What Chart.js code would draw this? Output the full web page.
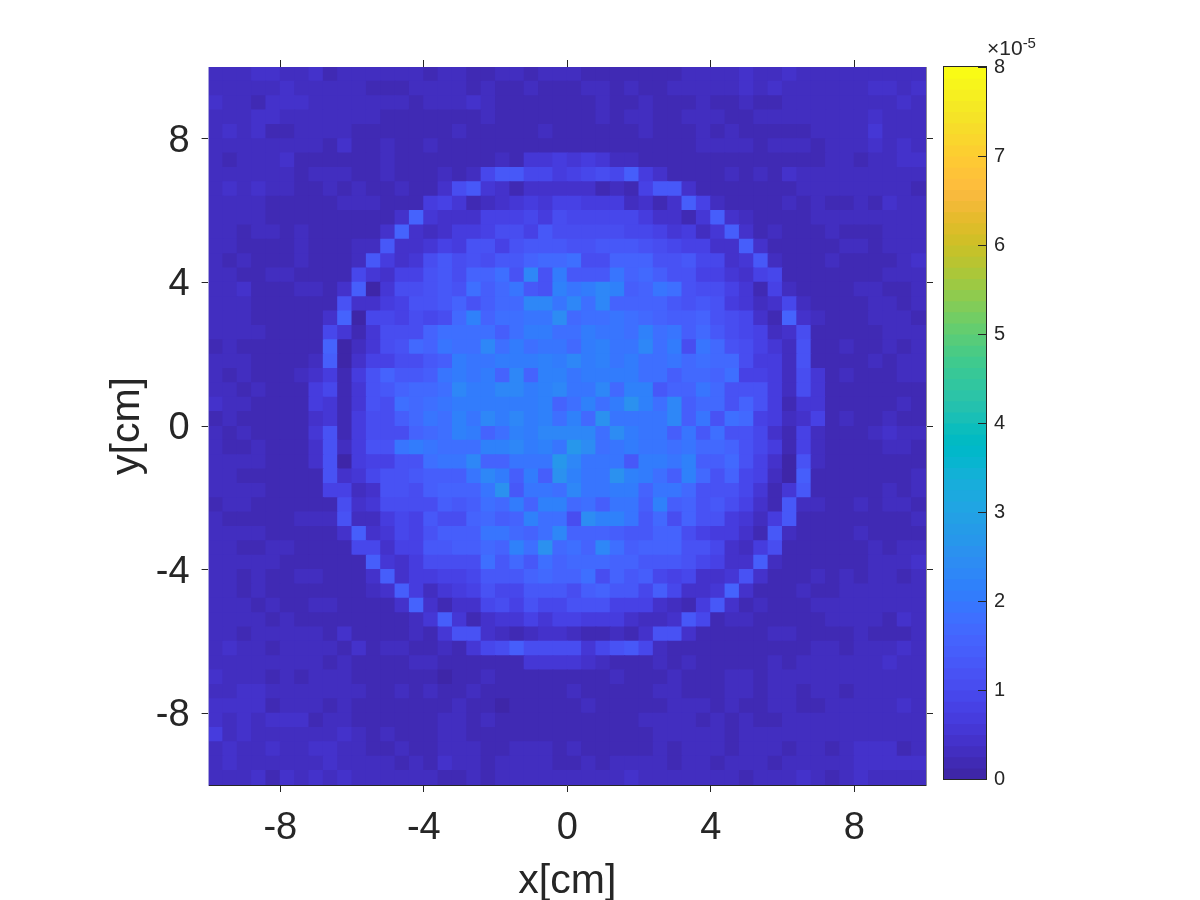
<!DOCTYPE html>
<html>
<head>
<meta charset="utf-8">
<title>Heatmap</title>
<script src="https://cdn.jsdelivr.net/npm/chart.js@4"></script>
<style>
  body { margin: 0; background: #fff; }
  canvas { position: absolute; left: 0; top: 0; }
  #cbExp { position: absolute; left: 987px; top: 36px; font: 21px "Liberation Sans", Arial, sans-serif; color: #262626; }
  #cbExp sup { font-size: 15px; vertical-align: 7px; line-height: 0; }
</style>
</head>
<body>
<canvas id="mapChart" width="1200" height="900"></canvas>
<canvas id="barChart" width="1200" height="900"></canvas>
<div id="cbExp">×10<sup>-5</sup></div>
<script>
// axis ticks
const xTicks = [-8, -4, 0, 4, 8];
const yTicks = [-8, -4, 0, 4, 8];
const cbTicks = [0, 1, 2, 3, 4, 5, 6, 7, 8];

// colormap (64 levels over 0..8e-5)
const parula = [[62,38,168],[64,42,180],[66,46,192],[68,50,203],[69,55,213],[70,60,222],[71,65,229],[71,71,235],[72,77,240],[72,82,244],[71,88,248],[70,94,251],[69,99,253],[66,105,254],[62,111,255],[56,117,254],[50,124,252],[47,129,250],[46,135,247],[45,140,243],[43,145,239],[39,151,235],[37,155,232],[35,160,229],[32,165,227],[28,169,223],[24,173,219],[18,177,214],[8,181,208],[1,184,202],[2,186,195],[11,189,189],[25,191,182],[36,193,174],[44,196,167],[49,198,159],[55,200,151],[63,202,142],[74,203,132],[87,204,122],[100,205,111],[114,205,100],[129,204,89],[143,203,78],[157,201,67],[171,199,57],[185,196,49],[197,194,42],[209,191,39],[220,189,41],[230,187,45],[240,186,54],[248,186,61],[254,190,60],[254,195,56],[254,201,52],[252,207,48],[250,214,45],[247,220,42],[245,227,39],[245,233,36],[246,239,32],[247,245,27],[249,251,21]];

// cell values in units of 1e-7, rows from y=10 down to y=-10, columns from x=-10 to x=10
const cellRows = [
[31,31,31,44,44,31,31,44,19,31,31,31,31,31,31,19,31,31,19,19,31,31,19,31,31,31,19,19,19,19,19,19,19,31,31,31,31,44,31,31,44,31,31,31,31,31,31,31,31,31],
[31,31,31,31,31,44,31,31,31,31,31,19,19,19,31,31,31,31,19,31,19,19,31,19,19,19,31,31,19,31,19,19,31,31,31,31,31,44,31,44,31,31,31,31,31,31,44,44,31,44],
[44,31,31,19,44,44,44,31,31,31,31,31,31,31,19,31,31,31,44,31,19,19,19,19,19,19,19,31,19,19,31,19,19,19,31,19,19,31,19,19,31,31,31,31,31,31,31,31,44,31],
[31,31,31,44,44,31,31,31,31,31,31,31,19,19,19,19,19,19,19,31,19,19,19,19,19,19,19,31,19,31,31,19,19,31,31,31,19,19,31,31,31,31,31,31,31,31,44,31,31,31],
[31,44,31,44,19,19,31,31,31,31,19,19,19,19,19,19,19,31,19,19,19,19,19,31,19,19,19,19,19,19,31,19,19,19,31,19,31,19,19,19,19,19,31,31,31,31,56,31,31,31],
[31,31,31,31,31,31,31,31,19,44,19,19,31,19,19,31,19,19,19,19,19,19,19,19,19,19,19,19,19,19,19,19,19,19,31,31,31,31,19,31,31,31,19,31,31,31,44,31,44,31],
[31,19,31,31,31,44,19,19,19,19,19,19,31,19,19,19,19,19,19,19,31,19,56,56,69,56,69,56,31,31,19,19,19,19,19,19,19,19,19,19,19,19,19,31,31,19,31,31,44,44],
[31,31,31,31,31,31,19,31,31,31,19,19,31,19,19,19,31,19,31,94,131,131,94,94,69,81,94,106,94,144,69,44,19,19,19,19,31,19,31,19,44,31,31,31,31,31,31,31,31,31],
[31,44,31,44,31,31,19,19,31,19,31,19,19,31,19,19,44,106,131,56,44,19,44,44,44,44,44,19,31,19,81,131,131,44,19,19,19,19,19,19,19,31,31,31,31,31,31,31,31,19],
[31,31,31,31,19,19,19,19,19,31,31,31,19,19,19,69,81,56,19,31,44,56,69,56,81,81,69,69,69,31,44,19,44,144,81,31,19,19,19,19,31,19,31,19,19,31,19,44,31,31],
[31,31,31,31,19,19,19,19,19,19,19,19,19,44,156,56,44,44,44,81,81,81,94,69,106,94,94,94,94,94,69,44,44,19,56,144,44,31,19,19,19,19,31,31,31,31,31,31,31,31],
[31,31,19,31,31,19,31,19,19,19,19,19,44,156,44,31,44,69,69,81,106,106,81,131,106,106,106,106,106,94,94,81,56,69,31,56,144,44,19,31,19,19,19,31,19,19,19,31,31,31],
[31,31,19,19,19,19,31,19,19,19,31,31,131,44,44,56,81,69,119,119,81,119,131,131,131,119,119,131,131,131,119,106,94,81,81,44,44,144,44,19,19,19,19,19,31,31,19,31,31,31],
[31,19,31,19,19,19,31,19,19,19,31,131,69,44,56,106,131,106,119,106,131,131,156,169,169,181,106,106,156,156,156,119,119,131,94,94,44,56,131,31,19,19,19,31,19,19,19,19,31,44],
[31,31,19,19,31,31,19,19,19,19,94,56,44,81,81,119,131,106,156,156,181,119,231,119,206,131,131,131,194,156,169,144,119,119,81,81,56,44,81,94,19,19,19,19,19,19,19,31,31,31],
[31,31,44,19,19,19,31,31,19,44,144,6,56,106,106,119,131,119,181,144,169,194,131,119,219,194,206,231,219,144,156,194,181,119,106,106,81,56,19,81,31,19,19,19,19,31,31,19,19,31],
[31,31,31,19,19,19,19,19,19,119,44,44,69,81,119,119,131,156,119,144,169,169,231,231,194,231,181,231,156,156,156,156,131,119,131,119,69,56,31,44,94,31,19,19,19,19,31,31,19,31],
[31,31,31,19,19,19,19,19,44,156,6,94,94,81,106,94,106,169,219,156,181,181,194,194,244,169,181,181,194,181,169,156,144,144,156,119,106,94,44,19,156,44,31,19,19,19,31,31,31,19],
[31,31,31,31,19,19,19,19,94,56,19,56,106,106,106,156,181,181,181,181,144,181,206,206,181,181,206,194,194,181,219,181,194,144,169,131,106,94,81,31,44,106,19,19,19,19,19,31,31,31],
[19,31,19,19,19,19,19,19,156,6,31,56,106,119,169,156,194,181,181,231,181,206,181,194,194,169,206,219,194,194,231,181,206,106,194,169,119,106,81,56,31,119,19,19,31,19,19,31,19,31],
[31,31,31,19,19,19,19,31,144,6,44,81,81,106,106,131,144,206,194,194,206,206,206,219,206,231,206,219,194,206,181,181,194,169,181,169,169,106,69,69,31,119,19,19,19,19,31,19,31,31],
[31,19,31,19,19,19,31,44,69,19,69,119,156,131,131,144,194,206,194,206,156,231,156,219,219,194,206,206,206,206,181,181,144,169,169,156,181,81,81,69,31,106,56,19,31,19,19,19,31,31],
[31,31,19,31,19,19,19,69,94,19,56,119,131,156,169,169,181,231,206,206,231,231,206,219,231,194,194,231,169,219,219,131,156,156,194,169,119,119,119,69,31,106,56,19,19,19,19,19,19,19],
[44,31,31,19,19,19,19,69,56,19,56,119,106,181,169,181,194,206,206,206,206,206,206,219,156,181,219,181,206,256,219,181,231,144,169,169,119,156,119,69,19,56,56,19,19,19,19,19,31,19],
[19,31,19,19,19,19,19,44,56,19,69,106,106,144,169,194,181,219,194,231,206,231,206,219,181,219,169,256,194,194,194,194,231,144,194,119,181,169,81,69,31,44,81,19,31,19,19,31,19,19],
[31,19,31,19,19,19,19,56,119,19,69,106,106,106,156,169,181,219,206,156,181,219,206,231,231,231,231,181,244,206,194,194,144,194,131,181,119,119,94,44,19,81,31,19,19,19,31,44,31,31],
[31,19,19,31,19,19,19,44,119,31,69,119,119,194,206,194,181,181,181,219,219,231,206,219,194,269,244,181,194,206,194,194,181,194,169,169,156,119,94,69,19,81,31,19,19,19,19,31,31,19],
[31,31,31,31,19,19,19,44,119,6,69,81,81,119,119,181,194,194,231,156,156,194,194,194,269,231,194,194,194,131,206,206,194,219,144,144,169,119,81,44,6,119,31,19,19,19,19,19,19,19],
[31,31,19,19,19,19,19,19,119,44,56,94,119,119,131,144,144,144,194,231,206,144,206,144,256,219,194,194,256,219,206,181,144,219,169,119,156,94,81,31,6,144,19,19,19,19,19,19,19,31],
[31,31,31,31,19,19,19,19,81,81,31,44,119,119,106,144,156,156,156,194,256,131,194,194,181,231,194,194,206,206,156,194,194,169,119,119,119,94,56,19,56,131,19,19,19,19,19,31,19,31],
[19,31,31,19,19,19,19,19,19,106,44,56,106,106,106,106,144,131,144,181,169,206,156,219,219,169,181,144,194,194,144,219,144,156,119,131,106,81,44,19,131,31,31,19,19,31,19,31,31,19],
[31,19,19,19,19,19,31,31,31,119,31,31,69,94,81,131,106,106,156,169,144,156,219,181,181,106,244,219,219,194,131,169,106,156,119,119,69,56,31,69,131,19,19,19,19,19,19,19,19,31],
[31,31,31,31,19,19,19,19,19,44,144,44,56,94,81,119,144,144,144,194,194,169,156,181,231,156,156,156,144,131,131,156,156,106,81,69,69,44,19,131,31,19,19,19,19,31,19,19,19,19],
[31,31,19,19,31,31,19,19,19,19,94,94,44,81,81,131,131,144,144,169,156,219,181,256,169,181,156,231,181,144,156,156,156,119,119,94,44,31,69,106,19,19,19,19,19,19,31,19,31,31],
[31,31,31,31,31,19,19,19,19,19,19,144,56,44,69,106,106,106,106,181,131,169,131,181,156,169,169,169,156,156,131,131,131,119,94,81,44,44,144,31,19,19,19,19,19,19,31,31,31,44],
[31,31,19,31,19,19,31,31,19,19,19,44,144,44,69,69,81,81,94,131,131,131,156,169,156,156,181,106,156,131,144,94,81,94,44,44,56,119,44,19,19,19,31,19,31,19,31,31,19,31],
[31,31,19,31,19,19,19,19,19,19,19,31,44,144,69,31,56,69,81,119,94,94,131,131,131,106,144,156,131,131,94,144,94,44,44,56,156,44,19,19,19,31,19,19,31,31,31,31,31,31],
[31,31,31,19,31,19,19,31,31,19,19,19,19,44,156,44,19,44,44,94,106,81,119,94,94,119,119,119,81,81,81,44,31,19,69,131,44,19,31,19,19,19,31,31,31,31,31,31,31,31],
[31,31,31,31,19,31,19,19,19,19,19,19,19,19,31,56,144,56,19,44,56,56,81,56,81,81,69,69,69,44,31,31,44,131,94,19,31,31,19,19,19,19,19,31,31,31,31,19,44,31],
[31,31,19,31,31,31,31,31,19,44,19,19,19,19,31,19,56,119,119,44,31,19,31,44,44,31,19,19,31,19,44,119,119,44,19,19,19,19,19,31,31,19,19,19,19,31,19,19,19,31],
[31,44,31,31,19,31,31,31,31,19,44,19,31,31,19,19,31,19,56,94,106,144,106,106,106,106,56,94,119,131,94,31,19,19,19,19,19,19,19,19,19,19,31,31,19,31,31,31,44,31],
[31,31,31,31,31,31,31,31,19,31,19,19,19,19,31,31,19,19,19,19,19,19,56,56,56,56,44,31,19,19,19,31,19,31,19,19,19,19,19,31,19,31,31,31,31,31,31,44,31,31],
[44,31,31,31,19,31,19,31,31,31,19,19,19,19,19,19,6,19,19,31,19,19,19,19,19,19,19,19,31,19,19,19,31,19,19,19,31,31,19,31,31,31,31,31,31,31,31,31,31,31],
[31,31,44,44,31,31,31,31,31,31,31,19,19,31,19,31,19,19,31,19,19,19,19,19,19,31,19,19,19,19,19,31,31,19,19,19,31,31,19,31,31,19,31,31,19,31,31,31,31,31],
[44,44,44,44,19,31,31,31,19,31,19,19,19,19,19,19,19,31,19,19,6,19,19,19,19,19,31,19,19,19,19,19,31,31,31,19,31,19,19,31,31,19,19,31,31,31,31,31,44,31],
[44,31,44,31,44,44,44,19,31,31,19,19,19,19,19,19,31,31,19,31,19,19,19,19,19,19,19,19,19,19,31,31,31,31,19,31,19,31,19,19,31,31,31,31,31,31,31,31,31,31],
[69,31,44,31,31,31,31,31,31,44,31,19,31,19,19,19,31,31,19,19,19,19,19,19,19,19,19,19,19,19,19,31,31,31,31,31,19,31,31,31,31,31,31,31,31,31,31,31,31,31],
[31,44,31,31,44,31,31,44,44,31,31,19,19,31,19,19,31,31,31,19,19,31,31,31,19,31,19,19,19,19,19,31,19,31,31,31,19,31,31,31,19,31,31,19,31,44,44,44,19,31],
[31,44,31,31,31,31,31,31,44,31,31,31,31,19,31,19,44,31,31,19,31,31,31,31,19,19,31,19,31,31,31,31,19,31,31,19,31,31,31,19,31,31,31,31,31,44,44,44,44,44],
[31,31,31,44,19,44,31,44,31,44,31,31,31,31,31,31,19,19,31,19,31,31,31,31,31,31,31,31,31,44,31,31,31,31,31,31,31,19,31,31,31,44,31,19,31,44,31,31,31,31]
];

const valueUnit = 0.01;   // cell value to 1e-5 units
const cellSize = 0.4;     // cm
const levelWidth = 8 / parula.length;

function levelColor(v) {
    const c = parula[Math.min(parula.length - 1, Math.floor(v / levelWidth))];
    return 'rgb(' + c[0] + ',' + c[1] + ',' + c[2] + ')';
}

const cells = [];
const cellColors = [];
cellRows.forEach((row, j) => {
    const yTop = 10 - j * cellSize;
    row.forEach((v, i) => {
        cells.push({ x: -10 + (i + 0.5) * cellSize, y: [yTop - cellSize, yTop] });
        cellColors.push(levelColor(v * valueUnit));
    });
});

const font = '"Liberation Sans", Arial, sans-serif';
const ink = '#262626';

function fixedTicks(values) {
    return scale => { scale.ticks = values.map(v => ({ value: v })); };
}

new Chart(document.getElementById('mapChart'), {
    type: 'bar',
    data: {
        datasets: [{ data: cells, backgroundColor: cellColors, borderWidth: 0, inflateAmount: 0.55 }]
    },
    options: {
        responsive: false,
        animation: false,
        barPercentage: 1,
        categoryPercentage: 1,
        layout: { padding: 0 },
        plugins: { legend: { display: false }, tooltip: { enabled: false } },
        scales: {
            x: {
                type: 'linear', position: 'bottom', offset: false, min: -10, max: 10,
                afterBuildTicks: fixedTicks(xTicks),
                afterFit: s => { s.height = 115; },
                grid: { drawOnChartArea: false, tickLength: 7, color: ink, offset: false },
                border: { color: ink, z: 1 },
                ticks: { color: ink, padding: 14, autoSkip: false, maxRotation: 0, font: { family: font, size: 38 } },
                title: { display: true, text: 'x[cm]', color: ink, padding: 0, font: { family: font, size: 41, lineHeight: 0.9 } }
            },
            x2: {
                type: 'linear', axis: 'x', position: 'top', offset: false, min: -10, max: 10,
                afterBuildTicks: fixedTicks(xTicks),
                afterFit: s => { s.height = 67; },
                grid: { drawOnChartArea: false, tickLength: 7, color: ink, offset: false },
                border: { display: false },
                ticks: { display: false }
            },
            y: {
                type: 'linear', position: 'left', min: -10, max: 10,
                afterBuildTicks: fixedTicks(yTicks),
                afterFit: s => { s.width = 208.6; },
                grid: { drawOnChartArea: false, tickLength: 7, color: ink },
                border: { color: '#a9a3dc', z: 1 },
                ticks: { color: ink, padding: 12, autoSkip: false, labelOffset: 2.5, font: { family: font, size: 38 } },
                title: { display: true, text: 'y[cm]', color: ink, padding: { top: 109, bottom: 0 }, font: { family: font, size: 41, lineHeight: 0.9 } }
            },
            y2: {
                type: 'linear', axis: 'y', position: 'right', min: -10, max: 10,
                afterBuildTicks: fixedTicks(yTicks),
                afterFit: s => { s.width = 274; },
                grid: { drawOnChartArea: false, tickLength: 7, color: ink },
                border: { color: '#8c8c96', z: 1 },
                ticks: { display: false }
            }
        }
    }
});

// colorbar
const cbSegments = parula.map((c, k) => ({ x: 'cb', y: [k * levelWidth, (k + 1) * levelWidth] }));
const cbColors = parula.map((c, k) => levelColor((k + 0.5) * levelWidth));

const cbFrame = {
    id: 'cbFrame',
    afterDatasetsDraw(chart) {
        const a = chart.chartArea;
        const ctx = chart.ctx;
        ctx.save();
        ctx.strokeStyle = ink;
        ctx.lineWidth = 1;
        ctx.strokeRect(Math.round(a.left) + 0.5, Math.round(a.top) - 0.5, Math.round(a.right - a.left), Math.round(a.bottom - a.top) + 1);
        ctx.restore();
    }
};

new Chart(document.getElementById('barChart'), {
    type: 'bar',
    data: {
        labels: ['cb'],
        datasets: [{ data: cbSegments, backgroundColor: cbColors, borderWidth: 0, inflateAmount: 0.55 }]
    },
    plugins: [cbFrame],
    options: {
        responsive: false,
        animation: false,
        barPercentage: 1,
        categoryPercentage: 1,
        layout: { padding: { left: 943, top: 67, bottom: 121 } },
        plugins: { legend: { display: false }, tooltip: { enabled: false } },
        scales: {
            x: { display: false },
            y: {
                type: 'linear', position: 'right', min: 0, max: 8,
                afterBuildTicks: fixedTicks(cbTicks),
                afterFit: s => { s.width = 214; },
                grid: { drawOnChartArea: false, tickLength: -8, color: ink, z: 1 },
                border: { display: false },
                ticks: { color: ink, padding: 16, autoSkip: false, font: { family: font, size: 20 } }
            }
        }
    }
});
</script>
</body>
</html>
